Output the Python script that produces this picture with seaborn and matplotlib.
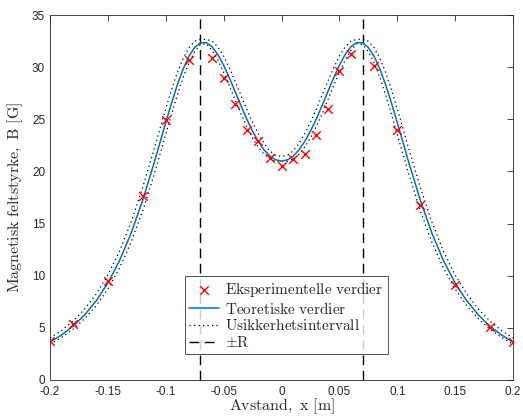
import numpy as np
import pandas as pd
import matplotlib
matplotlib.use('Agg')
import matplotlib.pyplot as plt
import seaborn as sns

# ---- experimental points ----
x_exp = [-0.20, -0.18, -0.15, -0.12, -0.10, -0.08, -0.06, -0.05, -0.04, -0.03, -0.02, -0.01, 0.00,
         0.01, 0.02, 0.03, 0.04, 0.05, 0.06, 0.08, 0.10, 0.12, 0.15, 0.18, 0.20]
B_exp = [3.75, 5.4, 9.5, 17.6, 24.9, 30.7, 30.9, 29.0, 26.5, 24.0, 22.9, 21.3, 20.5,
         21.2, 21.7, 23.5, 26.0, 29.6, 31.3, 30.1, 24.0, 16.8, 9.1, 5.05, 3.65]

# ---- theoretical curve and uncertainty band ----
x_theo = [-0.20, -0.19, -0.18, -0.17, -0.16, -0.15, -0.14, -0.13, -0.12, -0.11,
          -0.100, -0.095, -0.090, -0.085, -0.080, -0.075, -0.070, -0.065, -0.060, -0.055,
          -0.050, -0.045, -0.040, -0.035, -0.030, -0.025, -0.020, -0.015, -0.010, -0.005,
          0.000,
          0.005, 0.010, 0.015, 0.020, 0.025, 0.030, 0.035, 0.040, 0.045, 0.050,
          0.055, 0.060, 0.065, 0.070, 0.075, 0.080, 0.085, 0.090, 0.095, 0.100,
          0.11, 0.12, 0.13, 0.14, 0.15, 0.16, 0.17, 0.18, 0.19, 0.20]
B_theo = [3.63, 4.32, 5.17, 6.25, 7.60, 9.30, 11.43, 14.06, 17.22, 20.84,
          24.69, 26.56, 28.30, 29.82, 31.04, 31.89, 32.33, 32.35, 31.96, 31.21,
          30.18, 28.96, 27.64, 26.30, 25.02, 23.86, 22.86, 22.05, 21.47, 21.11,
          20.99,
          21.11, 21.47, 22.05, 22.86, 23.86, 25.02, 26.30, 27.64, 28.96, 30.18,
          31.21, 31.96, 32.35, 32.33, 31.89, 31.04, 29.82, 28.30, 26.56, 24.69,
          20.84, 17.22, 14.06, 11.43, 9.30, 7.60, 6.25, 5.17, 4.32, 3.63]
B_upper = [4.02, 4.75, 5.66, 6.81, 8.26, 10.07, 12.34, 15.13, 18.44, 22.16,
           26.03, 27.84, 29.48, 30.84, 31.86, 32.48, 32.67, 32.66, 32.50, 31.94,
           31.06, 29.92, 28.64, 27.29, 25.95, 24.71, 23.60, 22.67, 21.95, 21.56,
           21.44,
           21.56, 21.95, 22.67, 23.60, 24.71, 25.95, 27.29, 28.64, 29.92, 31.06,
           31.94, 32.50, 32.66, 32.67, 32.48, 31.86, 30.84, 29.48, 27.84, 26.03,
           22.16, 18.44, 15.13, 12.34, 10.07, 8.26, 6.81, 5.66, 4.75, 4.02]
B_lower = [3.44, 4.09, 4.88, 5.89, 7.14, 8.73, 10.72, 13.19, 16.20, 19.72,
           23.55, 25.48, 27.32, 29.00, 30.42, 31.50, 32.19, 32.24, 31.62, 30.68,
           29.50, 28.20, 26.84, 25.51, 24.29, 23.21, 22.32, 21.63, 21.19, 20.97,
           20.99,
           20.97, 21.19, 21.63, 22.32, 23.21, 24.29, 25.51, 26.84, 28.20, 29.50,
           30.68, 31.62, 32.24, 32.19, 31.50, 30.42, 29.00, 27.32, 25.48, 23.55,
           19.72, 16.20, 13.19, 10.72, 8.73, 7.14, 5.89, 4.88, 4.09, 3.44]

R_lines = [-0.07, 0.07]

x_ticks = [-0.2, -0.15, -0.1, -0.05, 0, 0.05, 0.1, 0.15, 0.2]
x_ticklabels = ['-0.2', '-0.15', '-0.1', '-0.05', '0', '0.05', '0.1', '0.15', '0.2']
y_ticks = [0, 5, 10, 15, 20, 25, 30, 35]

labels = ['Eksperimentelle verdier', 'Teoretiske verdier', 'Usikkerhetsintervall', r'$\pm\mathrm{R}$']

df_exp = pd.DataFrame({'x': x_exp, 'B': B_exp})
df_theo = pd.DataFrame({'x': x_theo, 'B': B_theo, 'up': B_upper, 'lo': B_lower})

sns.set_style('white')
plt.rcParams['mathtext.fontset'] = 'cm'
plt.rcParams['font.family'] = ['Liberation Sans', 'DejaVu Sans']

fig = plt.figure(figsize=(5.23, 4.16), dpi=100)
ax = fig.add_axes([50 / 523, 1 - 380 / 416, 463 / 523, 365 / 416])

blue = '#0072BD'
dark = '#262626'

for i, xv in enumerate(R_lines):
    ax.axvline(xv, color='black', lw=1.0, dashes=(7, 4), label=labels[3] if i == 0 else None, zorder=1)

sns.lineplot(data=df_theo, x='x', y='up', ax=ax, color='black', lw=0.9,
             linestyle=(0, (1, 2.6)), label=labels[2], zorder=2)
sns.lineplot(data=df_theo, x='x', y='lo', ax=ax, color='black', lw=0.9,
             linestyle=(0, (1, 2.6)), zorder=2)
sns.lineplot(data=df_theo, x='x', y='B', ax=ax, color=blue, lw=1.1, label=labels[1], zorder=3)
sns.scatterplot(data=df_exp, x='x', y='B', ax=ax, marker='x', color='red', s=38,
                linewidth=1.0, label=labels[0], zorder=4)

ax.set_xlim(-0.2, 0.2)
ax.set_ylim(0, 35)
ax.set_xticks(x_ticks)
ax.set_xticklabels(x_ticklabels)
ax.set_yticks(y_ticks)
ax.tick_params(direction='in', top=True, right=True, length=4, width=0.6,
               colors=dark, labelsize=8.5)
ax.tick_params(axis='x', pad=4.5)
ax.tick_params(axis='y', pad=3.5)
for sp in ax.spines.values():
    sp.set_visible(True)
    sp.set_color(dark)
    sp.set_linewidth(0.6)

ax.set_xlabel(r'$\mathrm{Avstand,\ x\ [m]}$', fontsize=11.5, color=dark, labelpad=-1)
ax.set_ylabel(r'$\mathrm{Magnetisk\ feltstyrke,\ B\ [G]}$', fontsize=11.5, color=dark, labelpad=5)

handles, labs = ax.get_legend_handles_labels()
order = [labs.index(l) for l in labels]
leg = ax.legend([handles[i] for i in order], [labs[i] for i in order],
                loc='lower left', bbox_to_anchor=(135 / 463, 26 / 365),
                borderaxespad=0, fontsize=11,
                frameon=True, fancybox=False, edgecolor='black', handlelength=2.0,
                handletextpad=0.4, labelspacing=0.12, borderpad=0.25, scatterpoints=1)
leg.get_frame().set_linewidth(0.6)
for t in leg.get_texts():
    s = t.get_text()
    if not s.startswith('$'):
        t.set_text(r'$\mathrm{' + s.replace(' ', r'\ ') + '}$')

fig.savefig('out.png', dpi=100)
